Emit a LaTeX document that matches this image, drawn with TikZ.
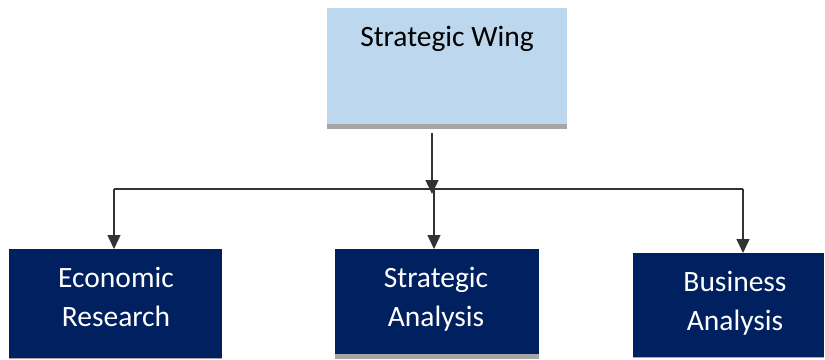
\documentclass[tikz,border=0pt]{standalone}
\usepackage{fontspec}
\setmainfont{Carlito}
\usetikzlibrary{arrows.meta}
\definecolor{lightblue}{HTML}{BDD7EE}
\definecolor{navy}{HTML}{002060}
\definecolor{shadowgray}{HTML}{A6A6A6}
\definecolor{linegray}{HTML}{333333}
\tikzset{
  box/.style={draw=none, rectangle, inner sep=0pt, anchor=north west},
  topbox/.style={box, fill=lightblue},
  darkbox/.style={box, fill=navy},
  lbl/.style={inner sep=0pt, anchor=base, align=center, font=\fontsize{29.5}{39}\selectfont},
  wlbl/.style={lbl, text=white},
  conn/.style={draw=linegray, line width=1.4pt},
  arr/.style={conn, -{Triangle[width=13pt,length=14pt]}},
}
\begin{document}
\begin{tikzpicture}[x=1pt,y=-1pt]
\useasboundingbox (0,0) rectangle (825,359);
% shadows
\fill[shadowgray] (327,119) rectangle (567,129);
\fill[shadowgray] (335,349) rectangle (539,359);
\fill[shadowgray] (9,352) rectangle (222,359);
\fill[shadowgray] (633,351) rectangle (824,358);
% boxes
\node[topbox, minimum width=240pt, minimum height=116pt] (top) at (327,8) {};
\node[darkbox, minimum width=213pt, minimum height=109pt] (eco) at (9,249) {};
\node[darkbox, minimum width=204pt, minimum height=105pt] (sa) at (335,249) {};
\node[darkbox, minimum width=191pt, minimum height=104pt] (ba) at (633,253) {};
% labels
\node[lbl] (ttop) at (447,46) {Strategic Wing};
\node[wlbl] (teco) at (116,326) {Economic\\Research};
\node[wlbl] (tsa) at (436,326) {Strategic\\Analysis};
\node[wlbl] (tba) at (735,330) {Business\\Analysis};
% connectors
\coordinate (start) at (432,133);
\coordinate (tip) at (432,194);
\coordinate (busL) at (114,189);
\coordinate (busM) at (434,189);
\coordinate (busR) at (743,189);
\draw[arr] (start) -- (tip);
\draw[conn] (busL) -- (busR);
\draw[arr] (busL) -- (busL |- eco.north);
\draw[arr] (busM) -- (busM |- sa.north);
\draw[arr] (busR) -- (busR |- ba.north);
\end{tikzpicture}
\end{document}
